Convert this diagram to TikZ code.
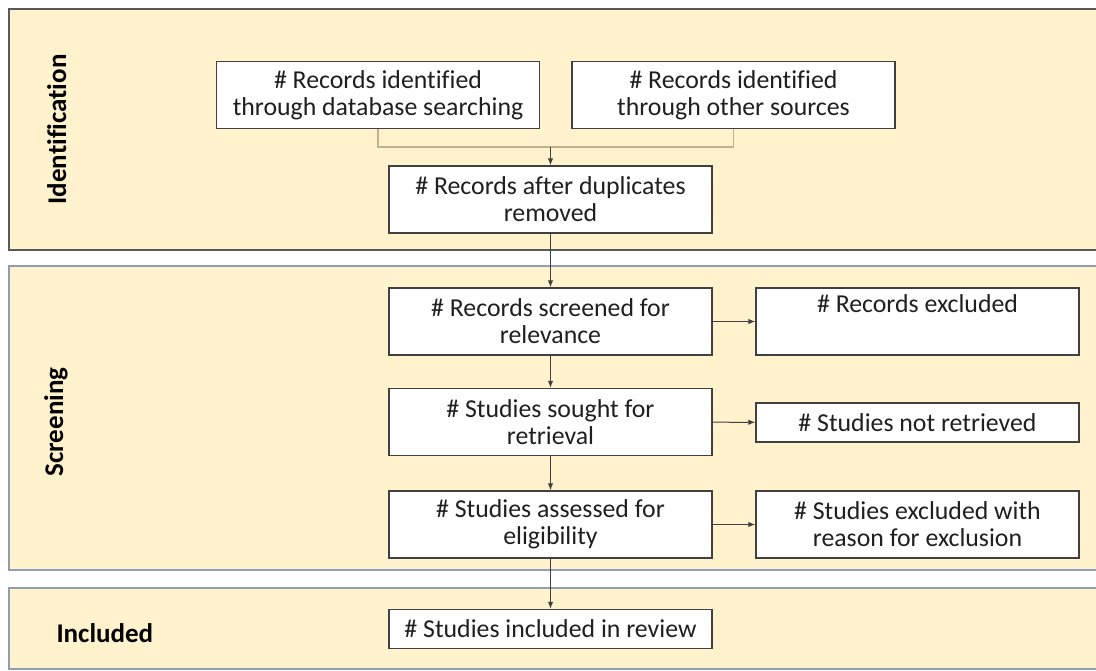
\documentclass[tikz,border=0pt]{standalone}
\usepackage{fontspec}
\setmainfont{Carlito}[Ligatures=CommonOff]
\usepackage{xcolor}
\usetikzlibrary{arrows.meta}

\definecolor{bandfill}{HTML}{FFF2CC}
\definecolor{bandline}{HTML}{8E9EB3}
\definecolor{boxline}{HTML}{404040}
\definecolor{mergeline}{HTML}{C4B08C}

\begin{document}
\begin{tikzpicture}[x=1pt,y=-1pt,>={Latex[length=7pt,width=5.5pt]},
    box/.style={draw=boxline,line width=1.4pt,fill=white,inner sep=0pt,
        minimum width=323pt,minimum height=67pt,align=center,
        font=\fontsize{25.8}{27}\selectfont,text=black!88},
    slimbox/.style={box,minimum height=39pt},
    phase/.style={font=\bfseries\fontsize{27}{30}\selectfont,text=black},
    flow/.style={->,line width=1pt,draw=boxline}]
    \useasboundingbox (0,0) rectangle (1096,670);

    % The three bands run off the right edge of the page.
    \filldraw[fill=bandfill,draw=black!65,line width=1.5pt] (9,9) rectangle (1110,250);
    \filldraw[fill=bandfill,draw=bandline,line width=2pt] (9,266) rectangle (1110,570);
    \filldraw[fill=bandfill,draw=bandline,line width=2pt] (9,588) rectangle (1110,669);
    \node[phase,rotate=90,anchor=base] (idlab) at (66,129.5) {Identification};
    \node[phase,rotate=90,anchor=base] (scrlab) at (63,422) {Screening};
    \node[phase,anchor=base west] (inclab) at (53,642) {Included};

    \node[box] (db) at (378,95) {\# Records identified\\through database searching};
    \node[box] (other) at (733.5,95) {\# Records identified\\through other sources};
    \node[box] (dup) at (550.5,199.5) {\# Records after duplicates\\removed};
    \node[box] (screen) at (550.5,321.5) {\# Records screened for\\relevance};
    \node[box] (recexcl) at (917.5,321.5) {\# Records excluded\\\strut};
    \node[box] (sought) at (550.5,422) {\# Studies sought for\\retrieval};
    \node[slimbox] (notret) at (917.5,422.5) {\# Studies not retrieved};
    \node[box] (assess) at (550.5,524.5) {\# Studies assessed for\\eligibility};
    \node[box] (studexcl) at (917.5,524.5) {\# Studies excluded with\\reason for exclusion};
    \node[slimbox] (incl) at (550.5,629) {\# Studies included in review};

    \coordinate (merge) at (550.5,147);
    \draw[mergeline,line width=1.5pt] (db.south) |- (merge) -| (other.south);
    \draw[flow] (merge) -- (dup);
    \draw[flow] (dup) -- (screen);
    \draw[flow] (screen) -- (recexcl);
    \draw[flow] (screen) -- (sought);
    \draw[flow] (sought) -- (notret);
    \draw[flow] (sought) -- (assess);
    \draw[flow] (assess) -- (studexcl);
    \draw[flow] (assess) -- (incl);
\end{tikzpicture}
\end{document}
